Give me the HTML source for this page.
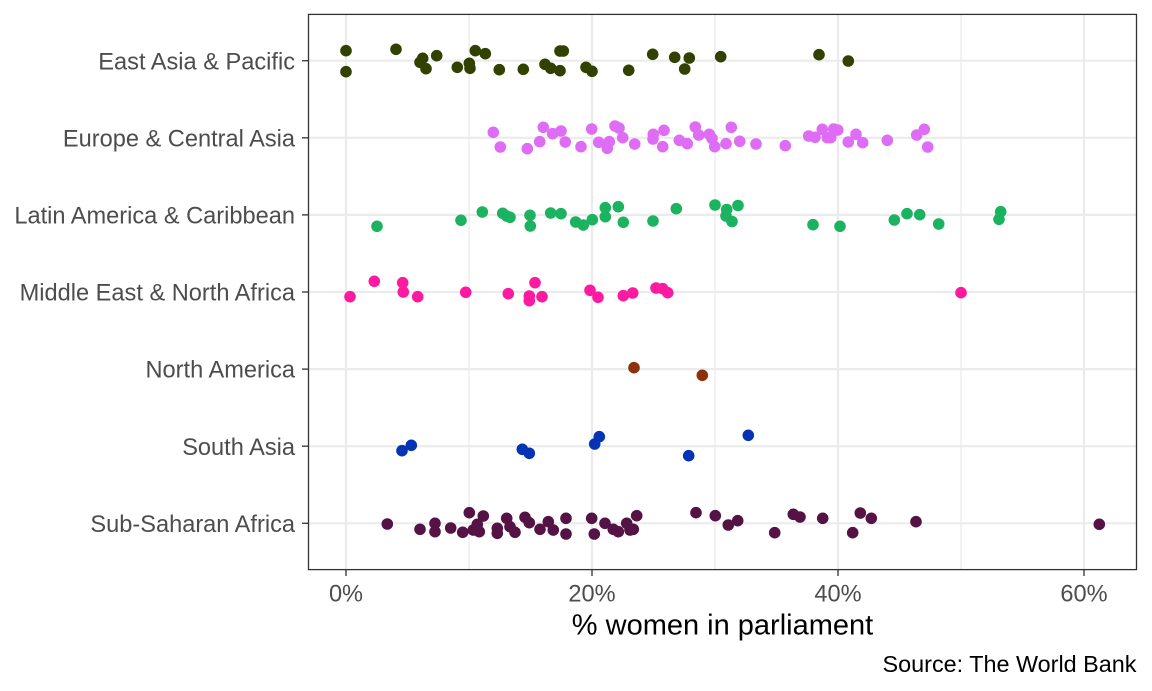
<!DOCTYPE html>
<html>
<head>
<meta charset="utf-8">
<style>
html,body{margin:0;padding:0;background:#fff;}
svg{display:block;}
text{font-family:"Liberation Sans",Arial,sans-serif;}
</style>
</head>
<body>
<svg width="1152" height="691" viewBox="0 0 1152 691" xmlns="http://www.w3.org/2000/svg">
<rect x="0" y="0" width="1152" height="691" fill="#fff"/>
<!-- minor vertical grid -->
<g stroke="#EBEBEB" stroke-width="1.3">
<line x1="469" y1="14.4" x2="469" y2="569.6"/>
<line x1="715" y1="14.4" x2="715" y2="569.6"/>
<line x1="961" y1="14.4" x2="961" y2="569.6"/>
</g>
<!-- major grid -->
<g stroke="#EBEBEB" stroke-width="2.2">
<line x1="346" y1="14.4" x2="346" y2="569.6"/>
<line x1="592" y1="14.4" x2="592" y2="569.6"/>
<line x1="838" y1="14.4" x2="838" y2="569.6"/>
<line x1="1084" y1="14.4" x2="1084" y2="569.6"/>
<line x1="308.5" y1="60.7" x2="1136.5" y2="60.7"/>
<line x1="308.5" y1="137.8" x2="1136.5" y2="137.8"/>
<line x1="308.5" y1="214.9" x2="1136.5" y2="214.9"/>
<line x1="308.5" y1="292" x2="1136.5" y2="292"/>
<line x1="308.5" y1="369.1" x2="1136.5" y2="369.1"/>
<line x1="308.5" y1="446.2" x2="1136.5" y2="446.2"/>
<line x1="308.5" y1="523.3" x2="1136.5" y2="523.3"/>
</g>

<!-- East Asia & Pacific -->
<g fill="#334100">
<circle cx="346" cy="50.7" r="5.8"/><circle cx="346" cy="71.7" r="5.8"/><circle cx="396" cy="49.3" r="5.8"/>
<circle cx="422.7" cy="58.3" r="5.8"/><circle cx="420" cy="62.3" r="5.8"/><circle cx="426" cy="68.7" r="5.8"/>
<circle cx="436.7" cy="55.7" r="5.8"/><circle cx="457.3" cy="67.3" r="5.8"/><circle cx="469.3" cy="63.3" r="5.8"/>
<circle cx="470" cy="68.3" r="5.8"/><circle cx="475.3" cy="50.7" r="5.8"/><circle cx="485.3" cy="53.7" r="5.8"/>
<circle cx="499.3" cy="69.7" r="5.8"/><circle cx="523.3" cy="69.3" r="5.8"/><circle cx="545" cy="64.3" r="5.8"/>
<circle cx="550.7" cy="68.3" r="5.8"/><circle cx="560" cy="70.7" r="5.8"/><circle cx="560" cy="51" r="5.8"/>
<circle cx="563.3" cy="51" r="5.8"/><circle cx="586" cy="67.3" r="5.8"/><circle cx="592" cy="71.3" r="5.8"/>
<circle cx="628.7" cy="70.3" r="5.8"/><circle cx="652.7" cy="54.3" r="5.8"/><circle cx="674.7" cy="57.3" r="5.8"/>
<circle cx="689.3" cy="58" r="5.8"/><circle cx="684.7" cy="69" r="5.8"/><circle cx="720.7" cy="56.7" r="5.8"/>
<circle cx="819" cy="54.7" r="5.8"/><circle cx="848.3" cy="61" r="5.8"/>
</g>

<!-- Europe & Central Asia -->
<g fill="#DF6CF5">
<circle cx="493.3" cy="132.3" r="5.8"/><circle cx="500.3" cy="147" r="5.8"/><circle cx="527.3" cy="148.7" r="5.8"/>
<circle cx="539.7" cy="141.7" r="5.8"/><circle cx="543.3" cy="127.3" r="5.8"/><circle cx="552.7" cy="133.7" r="5.8"/>
<circle cx="561" cy="131" r="5.8"/><circle cx="565.3" cy="142" r="5.8"/><circle cx="581" cy="146.7" r="5.8"/>
<circle cx="591.7" cy="129" r="5.8"/><circle cx="598.7" cy="142.3" r="5.8"/><circle cx="607.3" cy="148.3" r="5.8"/>
<circle cx="609.3" cy="141.7" r="5.8"/><circle cx="615" cy="126" r="5.8"/><circle cx="619" cy="128" r="5.8"/>
<circle cx="622.7" cy="137.7" r="5.8"/><circle cx="634.7" cy="144" r="5.8"/><circle cx="653.3" cy="134.3" r="5.8"/>
<circle cx="653" cy="139" r="5.8"/><circle cx="664" cy="130.3" r="5.8"/><circle cx="662.7" cy="146.7" r="5.8"/>
<circle cx="679.3" cy="140.3" r="5.8"/><circle cx="687.3" cy="143.7" r="5.8"/><circle cx="695.3" cy="127" r="5.8"/>
<circle cx="698.7" cy="135" r="5.8"/><circle cx="709.3" cy="134.3" r="5.8"/><circle cx="712" cy="138.5" r="5.8"/>
<circle cx="714.7" cy="146.7" r="5.8"/><circle cx="726" cy="143.7" r="5.8"/><circle cx="731.3" cy="127.3" r="5.8"/>
<circle cx="739.7" cy="141.3" r="5.8"/><circle cx="756" cy="144" r="5.8"/><circle cx="785.3" cy="145.7" r="5.8"/>
<circle cx="808.7" cy="136" r="5.8"/><circle cx="815" cy="137.3" r="5.8"/><circle cx="822.3" cy="129.3" r="5.8"/>
<circle cx="827.3" cy="137.7" r="5.8"/><circle cx="830.7" cy="137.7" r="5.8"/><circle cx="833.7" cy="129" r="5.8"/>
<circle cx="837.7" cy="130" r="5.8"/><circle cx="848.3" cy="142" r="5.8"/><circle cx="856" cy="134.3" r="5.8"/>
<circle cx="862.7" cy="142.7" r="5.8"/><circle cx="887.3" cy="140.3" r="5.8"/><circle cx="916.7" cy="135" r="5.8"/>
<circle cx="924.3" cy="129.3" r="5.8"/><circle cx="927.7" cy="147" r="5.8"/>
</g>

<!-- Latin America & Caribbean -->
<g fill="#1BB35F">
<circle cx="377" cy="226.3" r="5.8"/><circle cx="461" cy="220.3" r="5.8"/><circle cx="482.3" cy="212" r="5.8"/>
<circle cx="502.7" cy="213.3" r="5.8"/><circle cx="506.7" cy="216" r="5.8"/><circle cx="510" cy="217.3" r="5.8"/>
<circle cx="530" cy="215.3" r="5.8"/><circle cx="530.3" cy="226" r="5.8"/><circle cx="550.7" cy="213" r="5.8"/>
<circle cx="561" cy="213.7" r="5.8"/><circle cx="575.7" cy="222" r="5.8"/><circle cx="583.3" cy="225" r="5.8"/>
<circle cx="592.3" cy="219.7" r="5.8"/><circle cx="605.3" cy="207.7" r="5.8"/><circle cx="605.3" cy="216.7" r="5.8"/>
<circle cx="618.3" cy="206.7" r="5.8"/><circle cx="623.3" cy="222.3" r="5.8"/><circle cx="653" cy="221" r="5.8"/>
<circle cx="676.3" cy="208.7" r="5.8"/><circle cx="715" cy="205" r="5.8"/><circle cx="726.7" cy="209.5" r="5.8"/>
<circle cx="726" cy="216" r="5.8"/><circle cx="732" cy="221.5" r="5.8"/><circle cx="738" cy="205.5" r="5.8"/>
<circle cx="813" cy="224.7" r="5.8"/><circle cx="840" cy="226.3" r="5.8"/><circle cx="894.3" cy="220" r="5.8"/>
<circle cx="907" cy="213.7" r="5.8"/><circle cx="919.7" cy="214.7" r="5.8"/><circle cx="938.7" cy="224" r="5.8"/>
<circle cx="1000.7" cy="211.7" r="5.8"/><circle cx="999" cy="219.3" r="5.8"/>
</g>

<!-- Middle East & North Africa -->
<g fill="#FC1AA0">
<circle cx="350" cy="296.7" r="5.8"/><circle cx="374.3" cy="281.3" r="5.8"/><circle cx="402.7" cy="282.7" r="5.8"/>
<circle cx="403.3" cy="292" r="5.8"/><circle cx="417.7" cy="296.7" r="5.8"/><circle cx="465.7" cy="292.3" r="5.8"/>
<circle cx="508.3" cy="293.7" r="5.8"/><circle cx="535" cy="282.7" r="5.8"/><circle cx="529.3" cy="296" r="5.8"/>
<circle cx="529.3" cy="300.7" r="5.8"/><circle cx="542" cy="296.7" r="5.8"/><circle cx="590" cy="290.3" r="5.8"/>
<circle cx="598" cy="297.3" r="5.8"/><circle cx="623.3" cy="295.7" r="5.8"/><circle cx="632.7" cy="293" r="5.8"/>
<circle cx="656" cy="288" r="5.8"/><circle cx="662.7" cy="288.7" r="5.8"/><circle cx="667.7" cy="292.7" r="5.8"/>
<circle cx="961" cy="292.7" r="5.8"/>
</g>

<!-- North America -->
<g fill="#8C320A">
<circle cx="634" cy="367.7" r="5.8"/><circle cx="702.3" cy="375.3" r="5.8"/>
</g>

<!-- South Asia -->
<g fill="#0433B4">
<circle cx="402" cy="450.7" r="5.8"/><circle cx="411.3" cy="445.3" r="5.8"/><circle cx="522.3" cy="449.3" r="5.8"/>
<circle cx="529.3" cy="453.3" r="5.8"/><circle cx="594.7" cy="444" r="5.8"/><circle cx="599.3" cy="436.7" r="5.8"/>
<circle cx="688.7" cy="455.7" r="5.8"/><circle cx="748.3" cy="435.3" r="5.8"/>
</g>

<!-- Sub-Saharan Africa -->
<g fill="#541245">
<circle cx="387.3" cy="524" r="5.8"/><circle cx="420" cy="529.3" r="5.8"/><circle cx="435" cy="523.3" r="5.8"/>
<circle cx="435" cy="531.7" r="5.8"/><circle cx="450.7" cy="528" r="5.8"/><circle cx="462.7" cy="532.3" r="5.8"/>
<circle cx="469.3" cy="512.7" r="5.8"/><circle cx="473.3" cy="530" r="5.8"/><circle cx="477.3" cy="524.3" r="5.8"/>
<circle cx="483.3" cy="516" r="5.8"/><circle cx="479.3" cy="531.7" r="5.8"/><circle cx="497.3" cy="528.3" r="5.8"/>
<circle cx="497.3" cy="533.3" r="5.8"/><circle cx="506.7" cy="518.3" r="5.8"/><circle cx="510" cy="526.7" r="5.8"/>
<circle cx="515" cy="532.3" r="5.8"/><circle cx="525" cy="517.3" r="5.8"/><circle cx="529.3" cy="522.7" r="5.8"/>
<circle cx="540" cy="529.3" r="5.8"/><circle cx="548.3" cy="521.7" r="5.8"/><circle cx="553.3" cy="530" r="5.8"/>
<circle cx="566" cy="518.3" r="5.8"/><circle cx="566" cy="534" r="5.8"/><circle cx="591.7" cy="518.3" r="5.8"/>
<circle cx="594.3" cy="534" r="5.8"/><circle cx="605" cy="523.3" r="5.8"/><circle cx="613.3" cy="529.3" r="5.8"/>
<circle cx="618.3" cy="531.7" r="5.8"/><circle cx="626.7" cy="523.3" r="5.8"/><circle cx="630" cy="530" r="5.8"/>
<circle cx="636.7" cy="515.7" r="5.8"/><circle cx="633.3" cy="529.3" r="5.8"/><circle cx="696" cy="512.7" r="5.8"/>
<circle cx="715.3" cy="515.7" r="5.8"/><circle cx="728.3" cy="525" r="5.8"/><circle cx="737.7" cy="520.7" r="5.8"/>
<circle cx="774.7" cy="532.7" r="5.8"/><circle cx="793.3" cy="514.3" r="5.8"/><circle cx="800" cy="517" r="5.8"/>
<circle cx="822.7" cy="518.3" r="5.8"/><circle cx="852.7" cy="532.7" r="5.8"/><circle cx="860.3" cy="513" r="5.8"/>
<circle cx="871.3" cy="518.3" r="5.8"/><circle cx="916" cy="521.7" r="5.8"/><circle cx="1099.3" cy="524.3" r="5.8"/>
</g>

<!-- panel border -->
<rect x="308.5" y="14.4" width="828" height="555.2" fill="none" stroke="#333333" stroke-width="1.3"/>

<!-- ticks -->
<g stroke="#333333" stroke-width="1.3">
<line x1="302" y1="60.7" x2="308.5" y2="60.7"/>
<line x1="302" y1="137.8" x2="308.5" y2="137.8"/>
<line x1="302" y1="214.9" x2="308.5" y2="214.9"/>
<line x1="302" y1="292" x2="308.5" y2="292"/>
<line x1="302" y1="369.1" x2="308.5" y2="369.1"/>
<line x1="302" y1="446.2" x2="308.5" y2="446.2"/>
<line x1="302" y1="523.3" x2="308.5" y2="523.3"/>
<line x1="346" y1="569.6" x2="346" y2="576"/>
<line x1="592" y1="569.6" x2="592" y2="576"/>
<line x1="838" y1="569.6" x2="838" y2="576"/>
<line x1="1084" y1="569.6" x2="1084" y2="576"/>
</g>

<!-- y labels -->
<g font-size="23.6" fill="#4D4D4D" text-anchor="end">
<text x="295" y="69.3">East Asia &amp; Pacific</text>
<text x="295" y="146.4">Europe &amp; Central Asia</text>
<text x="295" y="223.5">Latin America &amp; Caribbean</text>
<text x="295" y="300.6">Middle East &amp; North Africa</text>
<text x="295" y="377.7">North America</text>
<text x="295" y="454.8">South Asia</text>
<text x="295" y="531.9">Sub-Saharan Africa</text>
</g>

<!-- x labels -->
<g font-size="23.6" fill="#4D4D4D" text-anchor="middle">
<text x="346" y="601.5">0%</text>
<text x="592" y="601.5">20%</text>
<text x="838" y="601.5">40%</text>
<text x="1084" y="601.5">60%</text>
</g>

<text x="722.5" y="634.3" font-size="29" fill="#000" text-anchor="middle">% women in parliament</text>
<text x="1136.5" y="672" font-size="23.4" fill="#000" text-anchor="end">Source: The World Bank</text>
</svg>
</body>
</html>
